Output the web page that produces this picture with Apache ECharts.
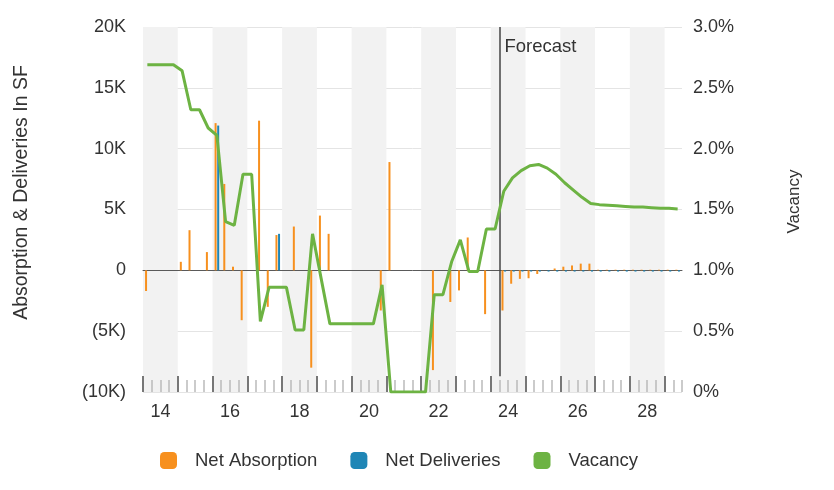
<!DOCTYPE html>
<html>
<head>
<meta charset="utf-8">
<script src="https://cdn.jsdelivr.net/npm/echarts@6/dist/echarts.min.js"></script>
<style>
  html, body { margin: 0; padding: 0; background: #fff; }
  #chart { width: 834px; height: 490px; }
</style>
</head>
<body>
<div id="chart"></div>
<script>
// Quarterly periods, 2014 Q1 through 2029 Q2
const quarters = [];
for (let y = 2014; y <= 2029; y++) {
  for (let q = 1; q <= 4; q++) {
    if (quarters.length < 62) quarters.push(y + ' Q' + q);
  }
}

// Year labels shown under every other year
const yearTickLabels = ['14', '16', '18', '20', '22', '24', '26', '28'];

// First forecast quarter
const forecastStart = '2024 Q2';

// Net absorption, SF
const netAbsorption = [
  -1700, 0, 0, 0, 700, 3300, 0, 1500,
  12100, 7100, 300, -4100, 0, 12300, -3000, 2900,
  0, 3600, 0, -8000, 4500, 3000, 0, 0,
  0, 0, 0, -3300, 8900, 0, 0, 0,
  0, -8200, 0, -2600, -1650, 2700, 0, -3600,
  0, -3300, -1100, -700, -650, -300, 0, 150,
  300, 400, 550, 550, 50, 50, 50, 50,
  50, 50, 50, 50, 50, 50
];

// Net deliveries, SF
const netDeliveries = [
  0, 0, 0, 0, 0, 0, 0, 0,
  11900, 0, 0, 0, 0, 0, 0, 3000,
  0, 0, 0, 0, 0, 0, 0, 0,
  0, 0, 0, 0, 0, 0, 0, 0,
  0, 0, 0, 0, 0, 0, 0, 0,
  0, -100, -100, -100, -100, -100, -100, -100,
  -100, -100, -100, -100, -100, -100, -100, -100,
  -100, -100, -100, -100, -100, -100
];

// Vacancy rate, percent
const vacancy = [
  2.69, 2.69, 2.69, 2.69, 2.64, 2.32, 2.32, 2.17,
  2.11, 1.40, 1.37, 1.79, 1.79, 0.58, 0.86, 0.86,
  0.86, 0.51, 0.51, 1.30, 0.93, 0.56, 0.56, 0.56,
  0.56, 0.56, 0.56, 0.88, 0.00, 0.00, 0.00, 0.00,
  0.00, 0.80, 0.80, 1.07, 1.25, 0.99, 0.99, 1.34,
  1.34, 1.65, 1.76, 1.82, 1.86, 1.87, 1.84, 1.79,
  1.72, 1.66, 1.60, 1.55, 1.54, 1.535, 1.53, 1.525,
  1.52, 1.52, 1.515, 1.51, 1.51, 1.505
];

const FONT = '"Liberation Sans", Arial, Helvetica, sans-serif';
const TEXT = '#333';
const ORANGE = '#f7901e';
const BLUE = '#1f86b6';
const GREEN = '#6db343';

// Quarter boundaries (one more than the quarters); year labels sit mid-year
const boundaries = [];
for (let i = 0; i <= quarters.length; i++) {
  const m = (i - 2) / 8;
  boundaries.push(Number.isInteger(m) && m >= 0 && m < yearTickLabels.length ? yearTickLabels[m] : ' ' + i);
}
const forecastIndex = quarters.indexOf(forecastStart);

const kFormat = v => {
  if (v === 0) return '0';
  return v < 0 ? '(' + (-v / 1000) + 'K)' : (v / 1000) + 'K';
};

const chart = echarts.init(document.getElementById('chart'), null, { renderer: 'canvas' });

const option = {
  backgroundColor: '#fff',
  animation: false,
  textStyle: { fontFamily: FONT },
  grid: { left: 143, right: 152, top: 27, bottom: 98, containLabel: false },
  legend: {
    data: ['Net Absorption', 'Net Deliveries', 'Vacancy'],
    left: 155,
    top: 446,
    icon: 'roundRect',
    itemWidth: 17,
    itemHeight: 17,
    itemGap: 33,
    textStyle: { fontSize: 18.5, color: TEXT, fontFamily: FONT, padding: [0, 0, 0, 13] }
  },
  xAxis: [
    {
      type: 'category',
      data: quarters,
      boundaryGap: true,
      position: 'bottom',
      axisLine: { show: true, onZero: true, lineStyle: { color: '#5a5a5a', width: 1 } },
      axisTick: { show: false },
      axisLabel: { show: false },
      splitLine: { show: false },
      splitArea: {
        show: true,
        interval: i => i % 4 === 0,
        areaStyle: { color: ['#f2f2f2', 'rgba(255,255,255,0)'] }
      }
    },
    {
      type: 'category',
      data: boundaries,
      boundaryGap: false,
      position: 'bottom',
      axisLine: { show: false, onZero: false },
      axisTick: {
        show: true, inside: true, length: 16,
        interval: i => i % 4 === 0,
        lineStyle: { color: '#777', width: 2 }
      },
      axisLabel: {
        interval: 0,
        formatter: v => (v.charAt(0) === ' ' ? '' : v),
        fontSize: 18, color: TEXT, fontFamily: FONT, margin: 11
      },
      splitLine: { show: false }
    },
    {
      type: 'category',
      data: boundaries,
      boundaryGap: false,
      position: 'bottom',
      axisLine: { show: false, onZero: false },
      axisTick: {
        show: true, inside: true, length: 12,
        interval: i => i % 4 !== 0,
        lineStyle: { color: '#bbb', width: 1.5 }
      },
      axisLabel: { show: false },
      splitLine: { show: false }
    }
  ],
  yAxis: [
    {
      type: 'value',
      min: -10000, max: 20000, interval: 5000,
      position: 'left',
      axisLine: { show: false },
      axisTick: { show: false },
      splitLine: { show: true, lineStyle: { color: '#e4e4e4', width: 1 } },
      axisLabel: { formatter: kFormat, fontSize: 18, color: TEXT, fontFamily: FONT, margin: 17 },
      name: 'Absorption & Deliveries In SF',
      nameLocation: 'middle',
      nameRotate: 90,
      nameGap: 111,
      nameTextStyle: { fontSize: 19.5, color: TEXT, fontFamily: FONT, padding: [0, 0, 0, 34] }
    },
    {
      type: 'value',
      min: 0, max: 3, interval: 0.5,
      position: 'right',
      axisLine: { show: false },
      axisTick: { show: false },
      splitLine: { show: false },
      axisLabel: {
        formatter: v => (v === 0 ? '0%' : v.toFixed(1) + '%'),
        fontSize: 18, color: TEXT, fontFamily: FONT, margin: 11
      },
      name: 'Vacancy',
      nameLocation: 'middle',
      nameRotate: 90,
      nameGap: 104,
      nameTextStyle: { fontSize: 17, color: TEXT, fontFamily: FONT, padding: [0, 0, 0, 16] }
    }
  ],
  series: [
    {
      name: 'Net Absorption',
      type: 'bar',
      xAxisIndex: 0, yAxisIndex: 0,
      data: netAbsorption,
      barWidth: 2,
      barGap: '30%',
      itemStyle: { color: ORANGE }
    },
    {
      name: 'Net Deliveries',
      type: 'bar',
      xAxisIndex: 0, yAxisIndex: 0,
      data: netDeliveries,
      barWidth: 2,
      barGap: '30%',
      itemStyle: { color: BLUE }
    },
    {
      name: 'Vacancy',
      type: 'line',
      xAxisIndex: 0, yAxisIndex: 1,
      data: vacancy,
      showSymbol: false,
      symbol: 'none',
      itemStyle: { color: GREEN },
      lineStyle: { color: GREEN, width: 3 },
      z: 5
    },
    {
      name: 'forecast',
      type: 'line',
      xAxisIndex: 1, yAxisIndex: 0,
      data: [],
      silent: true,
      markLine: {
        silent: true,
        symbol: 'none',
        label: { show: false },
        lineStyle: { color: '#444', width: 1.5, type: 'solid' },
        data: [[
          { xAxis: forecastIndex, yAxis: 20000 },
          { xAxis: forecastIndex, yAxis: -8700 }
        ]]
      },
      z: 6
    }
  ]
};

chart.setOption(option);

// "Forecast" caption just right of the divider line
const fx = chart.convertToPixel({ xAxisIndex: 1 }, forecastIndex);
const fy = chart.convertToPixel({ yAxisIndex: 0 }, 20000);
chart.setOption({
  graphic: [{
    type: 'text',
    left: fx + 5,
    top: fy + 10,
    silent: true,
    style: { text: 'Forecast', fontSize: 18.5, fill: TEXT, fontFamily: FONT }
  }]
});
</script>
</body>
</html>
